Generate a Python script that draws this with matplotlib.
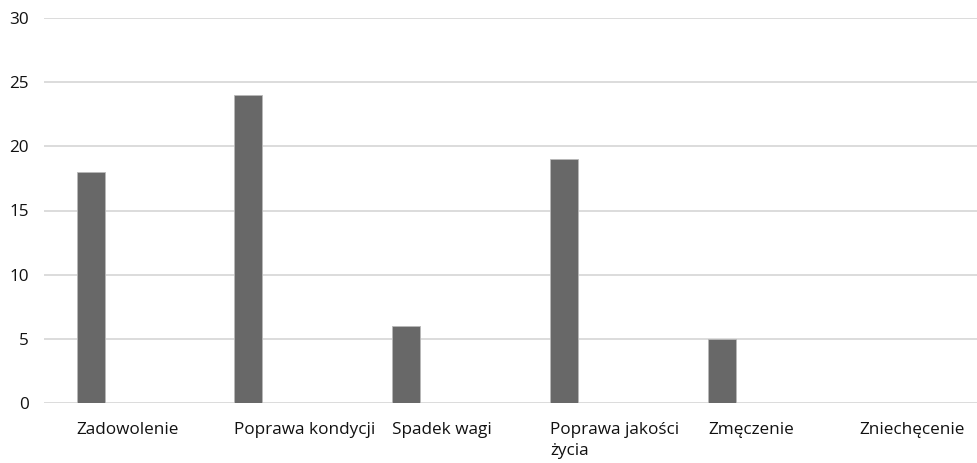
import matplotlib
matplotlib.use("Agg")
import matplotlib.pyplot as plt
import matplotlib.transforms as mtransforms
import numpy as np

categories = ["Zadowolenie", "Poprawa kondycji", "Spadek wagi",
              "Poprawa jakości\nżycia", "Zmęczenie", "Zniechęcenie"]
values = [18, 24, 6, 19, 5, 0]
y_ticks = [0, 5, 10, 15, 20, 25, 30]

plt.rcParams["font.family"] = ["Open Sans", "DejaVu Sans"]

fig = plt.figure(figsize=(9.77, 4.63), dpi=100)
W, H = 977, 463
left_px, right_px = 44, 992
bottom_px, top_px = 403, 18
ax = fig.add_axes([left_px / W, 1 - bottom_px / H,
                   (right_px - left_px) / W, (bottom_px - top_px) / H])

x = np.arange(len(categories))
slot = (right_px - left_px) / len(categories)
offset = -32.5 / slot
width = 28 / slot
ax.bar(x + offset, values, width=width, color="#686868",
       edgecolor="#b8b8b8", linewidth=0.6, zorder=3)

ax.set_xlim(-0.5, len(categories) - 0.5)
ax.set_ylim(0, 30)
ax.set_yticks(y_ticks)
# category labels start at the left edge of each bar
ax.set_xticks(x + offset - width / 2)
ax.set_xticklabels(categories, fontsize=12.3, color="#111111",
                   linespacing=1.4, va="top", ha="left",
                   multialignment="left")
ax.tick_params(axis="y", labelsize=12.3, labelcolor="#111111", length=0, pad=11)
ax.tick_params(axis="x", length=0, pad=14)
ax.grid(axis="y", color="#d9d9d9", linewidth=1.3, zorder=0)
for s in ax.spines.values():
    s.set_visible(False)

# keep the last label inside the right edge
lbl = ax.get_xticklabels()[-1]
lbl.set_transform(lbl.get_transform() +
                  mtransforms.ScaledTranslation(-7 / 100, 0, fig.dpi_scale_trans))

fig.savefig("out.png", dpi=100)
